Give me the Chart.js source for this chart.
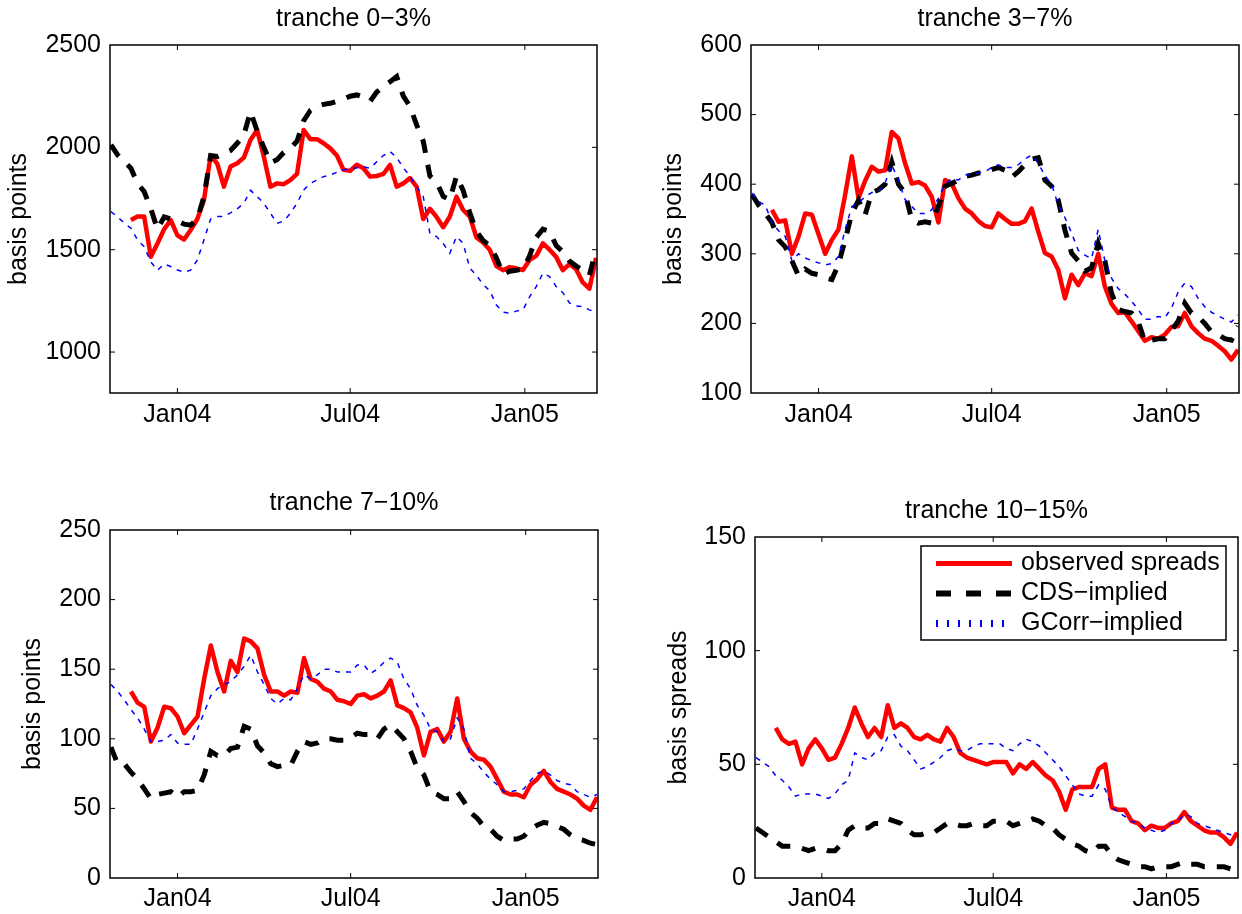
<!DOCTYPE html>
<html>
<head>
<meta charset="utf-8">
<script src="https://cdn.jsdelivr.net/npm/chart.js@4.4.1/dist/chart.umd.min.js"></script>
<style>
html,body{margin:0;padding:0;background:#ffffff;}
body{width:1242px;height:914px;position:relative;overflow:hidden;}
.panel{position:absolute;}
</style>
</head>
<body>
<div class="panel" style="left:0px;top:0px;width:620px;height:457px"><canvas id="c1"></canvas></div>
<div class="panel" style="left:641px;top:0px;width:601px;height:457px"><canvas id="c2"></canvas></div>
<div class="panel" style="left:0px;top:457px;width:620px;height:457px"><canvas id="c3"></canvas></div>
<div class="panel" style="left:645px;top:457px;width:597px;height:457px"><canvas id="c4"></canvas></div>
<script>
// ---------------- data ----------------
const dates = [
 '2003-10-23','2003-10-30','2003-11-06','2003-11-13','2003-11-20','2003-11-27','2003-12-04','2003-12-11','2003-12-18','2003-12-25',
 '2004-01-01','2004-01-08','2004-01-15','2004-01-22','2004-01-29','2004-02-05','2004-02-12','2004-02-19','2004-02-26','2004-03-04',
 '2004-03-11','2004-03-18','2004-03-25','2004-04-01','2004-04-08','2004-04-15','2004-04-22','2004-04-29','2004-05-06','2004-05-13',
 '2004-05-20','2004-05-27','2004-06-03','2004-06-10','2004-06-17','2004-06-24','2004-07-01','2004-07-08','2004-07-15','2004-07-22',
 '2004-07-29','2004-08-05','2004-08-12','2004-08-19','2004-08-26','2004-09-02','2004-09-09','2004-09-16','2004-09-23','2004-09-30',
 '2004-10-07','2004-10-14','2004-10-21','2004-10-28','2004-11-04','2004-11-11','2004-11-18','2004-11-25','2004-12-02','2004-12-09',
 '2004-12-16','2004-12-23','2004-12-30','2005-01-06','2005-01-13','2005-01-20','2005-01-27','2005-02-03','2005-02-10','2005-02-17',
 '2005-02-24','2005-03-03','2005-03-10','2005-03-17'
];
const xTickDates = ['2004-01-01','2004-07-01','2005-01-01'];
const xTickLabels = ['Jan04','Jul04','Jan05'];
const xRangeDates = ['2003-10-22','2005-03-18'];

const seriesNames = ['observed spreads','CDS\u2212implied','GCorr\u2212implied'];

// tranche 0-3%
const obs03 = [
 null,null,null,1645,1662,1662,1466,1530,1600,1645,
 1570,1550,1596,1650,1743,1960,1920,1808,1906,1922,
 1950,2036,2085,1955,1808,1824,1820,1840,1870,2085,
 2040,2040,2020,1995,1960,1890,1885,1915,1898,1857,
 1860,1870,1914,1808,1824,1850,1808,1650,1700,1660,
 1610,1662,1759,1694,1662,1560,1535,1500,1420,1400,
 1415,1409,1401,1450,1470,1531,1500,1465,1400,1430,
 1405,1340,1310,1460
];
const cds03 = [
 2012,1963,1930,1898,1824,1784,1700,1600,1660,1650,
 1640,1625,1620,1650,1760,1960,1955,1970,1985,2020,
 2060,2175,2080,2000,1925,1940,1975,1995,2030,2130,
 2180,2200,2210,2215,2225,2235,2250,2256,2245,2225,
 2270,2296,2320,2345,2250,2200,2110,2030,1860,1830,
 1760,1745,1860,1790,1680,1590,1545,1520,1460,1380,
 1395,1400,1405,1470,1560,1600,1590,1520,1490,1445,
 1420,1400,1375,1500
];
const gcorr03 = [
 1686,1660,1630,1605,1548,1515,1440,1400,1430,1418,
 1401,1390,1400,1450,1548,1650,1662,1662,1680,1700,
 1727,1790,1760,1727,1678,1629,1640,1678,1727,1792,
 1824,1840,1857,1865,1878,1890,1895,1900,1904,1898,
 1930,1960,1980,1950,1900,1860,1808,1759,1580,1564,
 1530,1483,1564,1531,1410,1375,1330,1300,1230,1195,
 1190,1200,1206,1270,1320,1385,1369,1320,1290,1240,
 1225,1222,1206,1195
];
const yTicks03 = [1000,1500,2000,2500];

// tranche 3-7%
const obs37 = [
 null,null,null,363,346,348,300,325,358,356,
 328,300,320,335,385,440,380,405,425,418,
 420,475,466,430,401,403,398,382,345,406,
 401,380,365,358,347,340,338,358,350,343,
 343,347,365,332,301,296,277,236,270,255,
 272,268,300,253,228,215,216,203,189,175,
 180,178,184,195,196,215,196,186,178,175,
 168,160,148,162
];
const cds37 = [
 385,370,358,345,320,310,290,268,278,272,
 270,265,263,285,320,358,377,356,388,392,
 400,432,400,387,349,344,346,344,368,397,
 401,406,411,413,416,416,421,424,420,410,
 418,428,436,438,406,397,377,334,301,290,
 275,280,315,290,243,220,217,215,203,174,
 176,178,178,190,203,229,215,210,200,188,
 184,178,176,196
];
const gcorr37 = [
 387,375,370,345,333,325,290,300,294,290,
 287,284,286,296,335,368,373,382,388,389,
 402,428,405,378,368,358,358,363,380,400,
 408,406,413,415,416,418,424,428,424,424,
 428,436,442,430,412,400,370,352,330,305,
 298,293,335,290,265,250,242,232,220,206,
 206,210,208,222,245,258,253,236,224,216,
 211,206,202,212
];
const yTicks37 = [100,200,300,400,500,600];

// tranche 7-10%
const obs710 = [
 null,null,null,134,126,123,98,108,123,122,
 116,104,110,116,143,167,148,134,156,148,
 172,170,165,146,134,134,131,134,133,158,
 143,141,136,134,128,127,125,131,132,129,
 131,134,142,124,122,119,108,88,105,107,
 98,105,129,100,91,86,85,80,71,62,
 60,60,58,67,71,77,69,64,62,60,
 57,52,49,58
];
const cds710 = [
 94,82,82,76,71,64,57,60,61,62,
 58,62,62,63,74,91,88,88,93,94,
 109,107,95,90,82,80,81,81,91,98,
 96,97,100,100,99,99,101,104,103,103,
 100,107,110,105,100,91,79,74,62,60,
 57,57,62,55,47,43,37,35,30,27,
 28,28,30,35,38,40,39,37,35,31,
 28,27,25,24
];
const gcorr710 = [
 139,134,128,121,115,107,98,98,99,103,
 97,96,96,107,119,131,136,139,141,146,
 152,160,148,139,129,125,129,128,136,146,
 143,146,150,150,148,148,148,153,153,147,
 150,155,158,155,143,136,124,117,107,105,
 98,100,115,107,86,82,76,71,67,62,
 62,63,64,70,75,77,74,70,68,67,
 62,60,58,60
];
const yTicks710 = [0,50,100,150,200,250];

// tranche 10-15%
const obs1015 = [
 null,null,null,66,61,59,60,50,57,61,
 57,52,53,59,66,75,68,62,66,62,
 76,66,68,66,62,61,63,61,60,66,
 62,55,53,52,51,50,51,51,51,46,
 50,48,51,48,45,43,38,30,39,40,
 40,40,48,50,31,30,30,25,24,21,
 23,22,22,24,25,29,25,23,21,20,
 20,18,15,20
];
const cds1015 = [
 22,20,18,16,14,14,14,13,12,13,
 13,12,12,15,21,23,22,22,24,24,
 26,25,24,21,19,19,20,20,22,24,
 24,23,23,24,23,23,25,25,25,23,
 24,25,26,25,23,22,19,17,15,14,
 12,11,14,14,10,8,7,6,5,5,
 4,5,5,5,6,7,6,6,5,5,
 5,5,4,5
];
const gcorr1015 = [
 53,51,49,45,43,40,36,37,37,37,
 36,35,37,41,43,55,53,52,55,56,
 62,63,58,56,52,48,49,51,53,56,
 57,56,56,58,59,59,59,59,57,56,
 59,61,60,58,55,52,49,45,41,37,
 36,36,41,39,31,29,27,25,24,22,
 21,20,21,24,25,28,27,24,23,22,
 21,20,19,20
];
const yTicks1015 = [0,50,100,150];

// ---------------- helpers ----------------
const FONT = "'Liberation Sans', Arial, Helvetica, sans-serif";
const FS = 25;
const DAY0 = Date.parse('2004-01-01');
const toDay = s => Math.round((Date.parse(s) - DAY0) / 86400000);
const xTickDays = xTickDates.map(toDay);

function pts(vals){ return dates.map((d,i)=>({x: toDay(d), y: vals[i]})); }

const framePlugin = {
  id: 'frame',
  afterDraw(chart){
    const {ctx, chartArea: a, scales} = chart;
    ctx.save();
    ctx.strokeStyle = '#000';
    ctx.lineWidth = 1.5;
    ctx.strokeRect(a.left, a.top, a.right - a.left, a.bottom - a.top);
    const L = 5;
    ctx.beginPath();
    scales.x.ticks.forEach(t => {
      const p = scales.x.getPixelForValue(t.value);
      ctx.moveTo(p, a.bottom); ctx.lineTo(p, a.bottom - L);
      ctx.moveTo(p, a.top); ctx.lineTo(p, a.top + L);
    });
    scales.y.ticks.forEach(t => {
      const p = scales.y.getPixelForValue(t.value);
      if (Math.abs(p - a.top) < 1 || Math.abs(p - a.bottom) < 1) return;
      ctx.moveTo(a.left, p); ctx.lineTo(a.left + L, p);
      ctx.moveTo(a.right, p); ctx.lineTo(a.right - L, p);
    });
    ctx.lineWidth = 1;
    ctx.stroke();
    ctx.restore();
  }
};

const legendPlugin = {
  id: 'boxLegend',
  afterDraw(chart){
    const {ctx, chartArea: a} = chart;
    const bw = 305, bh = 94;
    const bx = a.right - 12 - bw, by = a.top + 9;
    ctx.save();
    ctx.fillStyle = '#fff';
    ctx.fillRect(bx, by, bw, bh);
    ctx.strokeStyle = '#000';
    ctx.lineWidth = 1.5;
    ctx.strokeRect(bx, by, bw, bh);
    const rows = [17.5, 47.5, 77.5];
    const ds = chart.data.datasets;
    ds.forEach((d, i) => {
      const y = by + rows[i];
      ctx.beginPath();
      ctx.strokeStyle = d.borderColor;
      if (i === 0){ ctx.setLineDash([]); ctx.lineWidth = 5; }
      else if (i === 1){ ctx.setLineDash([15,15]); ctx.lineWidth = 6; }
      else { ctx.setLineDash([2,9]); ctx.lineWidth = 7; }
      ctx.lineCap = 'butt';
      ctx.moveTo(bx + 15, y); ctx.lineTo(bx + 91, y);
      ctx.stroke();
      ctx.setLineDash([]);
      ctx.fillStyle = '#000';
      ctx.font = FS + 'px ' + FONT;
      ctx.textBaseline = 'middle';
      ctx.textAlign = 'left';
      ctx.fillText(d.label, bx + 100, y);
    });
    ctx.restore();
  }
};

function makeChart(id, cfg){
  const plugins = [framePlugin];
  if (cfg.legend) plugins.push(legendPlugin);
  return new Chart(document.getElementById(id), {
    type: 'line',
    data: {
      datasets: [
        {label: seriesNames[0], data: pts(cfg.obs), borderColor: '#ff0000', backgroundColor: '#ff0000',
         borderWidth: 4.5, pointRadius: 0, tension: 0, order: 3, borderJoinStyle: 'round', spanGaps: false},
        {label: seriesNames[1], data: pts(cfg.cds), borderColor: '#000000', backgroundColor: '#000000',
         borderWidth: 5, borderDash: [14, 12], borderCapStyle: 'butt', pointRadius: 0, tension: 0, order: 2},
        {label: seriesNames[2], data: pts(cfg.gcorr), borderColor: '#0000ff', backgroundColor: '#0000ff',
         borderWidth: 1.5, borderDash: [5, 6], pointRadius: 0, tension: 0, order: 1}
      ]
    },
    options: {
      responsive: true,
      maintainAspectRatio: false,
      animation: false,
      events: [],
      layout: {padding: {left: 0, right: cfg.padRight, top: 0, bottom: 0}},
      plugins: {
        legend: {display: false},
        tooltip: {enabled: false},
        title: {display: true, text: cfg.title, fullSize: false, color: '#000',
                font: {family: FONT, size: FS, weight: 'normal'},
                padding: {top: cfg.titleTop, bottom: cfg.titleBottom}}
      },
      scales: {
        x: {
          type: 'linear',
          min: toDay(xRangeDates[0]), max: toDay(xRangeDates[1]),
          afterBuildTicks: s => { s.ticks = xTickDays.map(v => ({value: v})); },
          afterFit: s => { s.height = cfg.xHeight; },
          grid: {display: false, drawTicks: false},
          border: {display: false},
          ticks: {
            autoSkip: false, maxRotation: 0, color: '#000', padding: cfg.xPad,
            font: {family: FONT, size: FS},
            callback: v => { const i = xTickDays.indexOf(v); return i >= 0 ? xTickLabels[i] : ''; }
          }
        },
        y: {
          min: cfg.yMin, max: cfg.yMax,
          afterBuildTicks: s => { s.ticks = cfg.yTicks.map(v => ({value: v})); },
          afterFit: s => { s.width = 110; },
          grid: {display: false, drawTicks: false},
          border: {display: false},
          ticks: {color: '#000', padding: 9, font: {family: FONT, size: FS},
                  callback: v => String(v)},
          title: {display: true, text: cfg.yTitle, color: '#000',
                  font: {family: FONT, size: FS}, padding: {top: cfg.yTitlePad, bottom: 0}}
        }
      }
    },
    plugins: plugins
  });
}

makeChart('c1', {obs: obs03, cds: cds03, gcorr: gcorr03, yMin: 800, yMax: 2500, yTicks: yTicks03,
  title: 'tranche 0\u22123%', yTitle: 'basis points', padRight: 23, xHeight: 64, xPad: 7,
  titleTop: 4, titleBottom: 11, yTitlePad: 4.5});
makeChart('c2', {obs: obs37, cds: cds37, gcorr: gcorr37, yMin: 100, yMax: 600, yTicks: yTicks37,
  title: 'tranche 3\u22127%', yTitle: 'basis points', padRight: 3, xHeight: 64, xPad: 7,
  titleTop: 4, titleBottom: 11, yTitlePad: 18.6});
makeChart('c3', {obs: obs710, cds: cds710, gcorr: gcorr710, yMin: 0, yMax: 250, yTicks: yTicks710,
  title: 'tranche 7\u221210%', yTitle: 'basis points', padRight: 22, xHeight: 36, xPad: 6,
  titleTop: 31, titleBottom: 12, yTitlePad: 18});
makeChart('c4', {obs: obs1015, cds: cds1015, gcorr: gcorr1015, yMin: 0, yMax: 150, yTicks: yTicks1015,
  title: 'tranche 10\u221215%', yTitle: 'basis spreads', padRight: 4, xHeight: 36, xPad: 6,
  titleTop: 39, titleBottom: 11, yTitlePad: 19, legend: true});
</script>
</body>
</html>
